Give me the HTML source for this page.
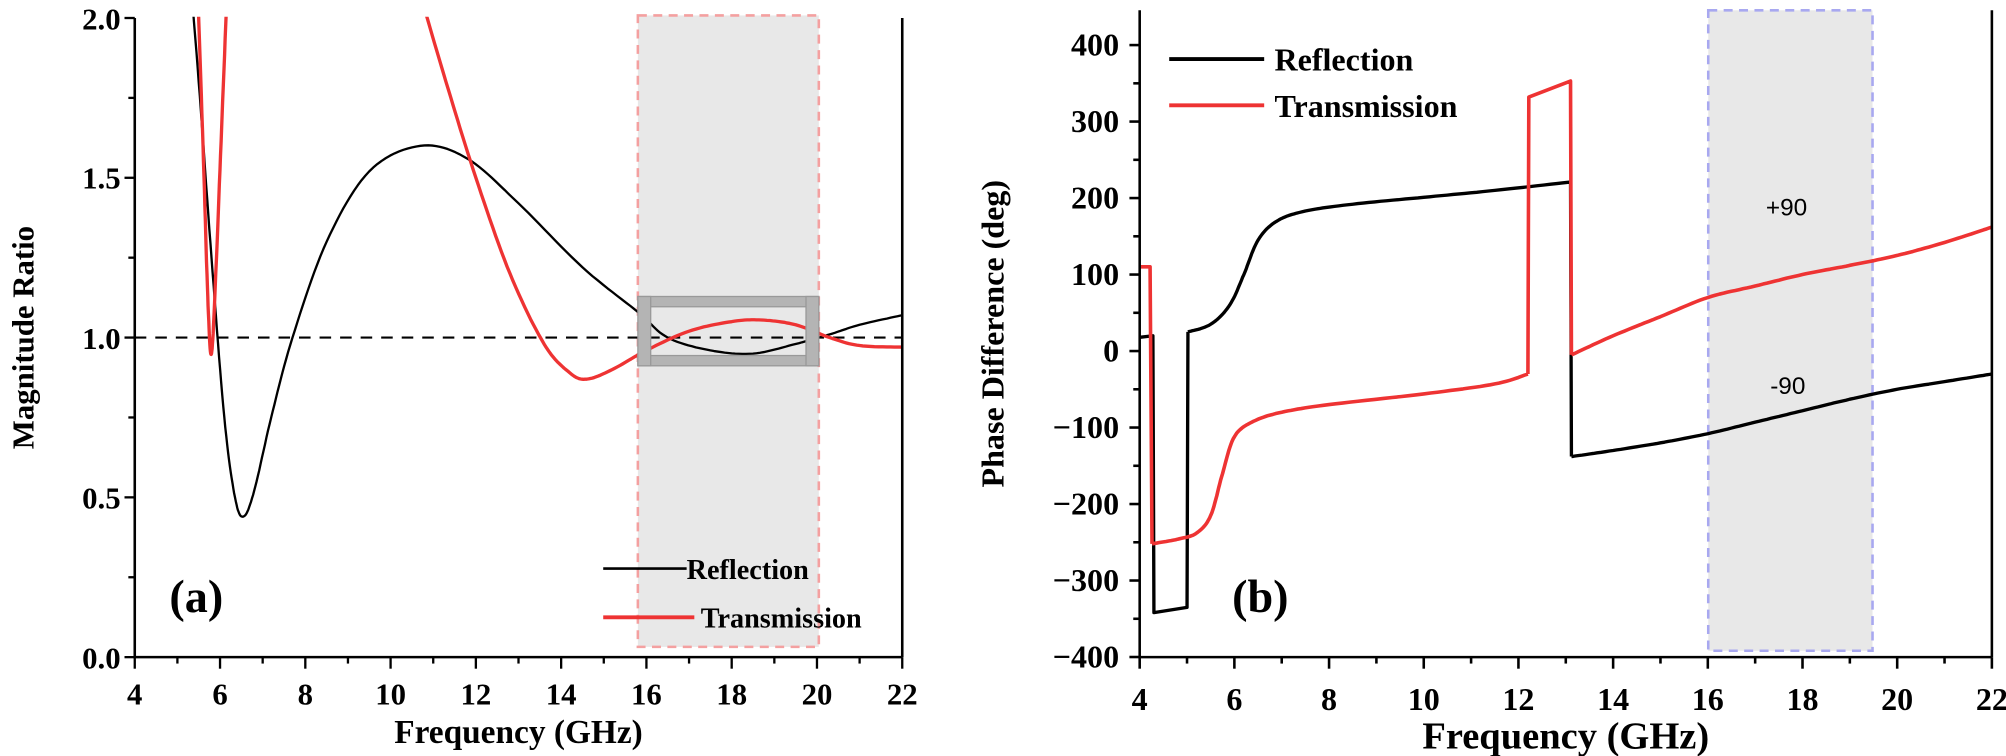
<!DOCTYPE html>
<html><head><meta charset="utf-8"><style>html,body{margin:0;padding:0;background:#fff}svg{display:block}</style></head>
<body>
<svg id="s" width="2006" height="756" viewBox="0 0 1563 589" xmlns="http://www.w3.org/2000/svg" font-family="Liberation Serif, serif">
<!-- Panel a -->
<rect x="497" y="12" width="141" height="492" fill="#e8e8e8" stroke="#f4a0a0" stroke-width="2" stroke-dasharray="7,5"/>
<line x1="105" y1="263" x2="703" y2="263" stroke="#000" stroke-width="1.6" stroke-dasharray="9,7"/>
<g id="ga"></g>
<g fill="#b4b4b4" stroke="#999" stroke-width="1">
<rect x="497" y="231" width="141" height="8"/>
<rect x="497" y="277" width="141" height="8"/>
<rect x="497" y="231" width="10" height="54"/>
<rect x="628" y="231" width="10" height="54"/>
</g>
<g stroke="#000" stroke-width="2" fill="none">
<line x1="105" y1="14" x2="105" y2="512"/><line x1="104" y1="512" x2="703" y2="512"/><line x1="703" y1="14" x2="703" y2="512"/>
</g>
<g id="ta"></g>
<g font-weight="bold" font-size="24" text-anchor="end">
<text x="94" y="521">0.0</text><text x="94" y="396">0.5</text><text x="94" y="272">1.0</text><text x="94" y="147">1.5</text><text x="94" y="23">2.0</text>
</g>
<g id="xa" font-weight="bold" font-size="24" text-anchor="middle"></g>
<text x="404" y="579" font-weight="bold" font-size="26" text-anchor="middle">Frequency (GHz)</text>
<text transform="translate(26,263) rotate(-90)" font-weight="bold" font-size="24" text-anchor="middle">Magnitude Ratio</text>
<text x="132" y="477" font-weight="bold" font-size="36">(a)</text>
<line x1="470" y1="443" x2="535" y2="443" stroke="#000" stroke-width="2"/>
<text x="535" y="451" font-weight="bold" font-size="22">Reflection</text>
<line x1="470" y1="481" x2="541" y2="481" stroke="#ee3333" stroke-width="3"/>
<text x="546" y="489" font-weight="bold" font-size="22">Transmission</text>

<!-- Panel b -->
<rect x="1331" y="8" width="128" height="499" fill="#e8e8e8" stroke="#a8a8f0" stroke-width="2" stroke-dasharray="7,5"/>
<g id="gb"></g>
<g stroke="#000" stroke-width="2" fill="none">
<line x1="888" y1="8" x2="888" y2="512"/><line x1="887" y1="512" x2="1552" y2="512"/><line x1="1552" y1="8" x2="1552" y2="512"/>
</g>
<g id="tb"></g>
<g id="yb" font-weight="bold" font-size="25" text-anchor="end"></g>
<g id="xb" font-weight="bold" font-size="25" text-anchor="middle"></g>
<text x="1220" y="583" font-weight="bold" font-size="30" text-anchor="middle">Frequency (GHz)</text>
<text transform="translate(782,260) rotate(-90)" font-weight="bold" font-size="25" text-anchor="middle">Phase Difference (deg)</text>
<text x="960" y="477" font-weight="bold" font-size="36">(b)</text>
<line x1="911" y1="46" x2="985" y2="46" stroke="#000" stroke-width="3"/>
<text x="993" y="55" font-weight="bold" font-size="25">Reflection</text>
<line x1="911" y1="82" x2="985" y2="82" stroke="#ee3333" stroke-width="3"/>
<text x="993" y="91" font-weight="bold" font-size="25">Transmission</text>
<text x="1392" y="168" font-family="Liberation Sans, sans-serif" font-size="19" text-anchor="middle">+90</text>
<text x="1393" y="307" font-family="Liberation Sans, sans-serif" font-size="19" text-anchor="middle">-90</text>
</svg>
<script>
var NS="http://www.w3.org/2000/svg";
function el(p,t,a){var e=document.createElementNS(NS,t);for(var k in a)e.setAttribute(k,a[k]);p.appendChild(e);return e;}
function spline(pts,n){var out=[];for(var i=0;i<pts.length-1;i++){var p0=pts[Math.max(i-1,0)],p1=pts[i],p2=pts[i+1],p3=pts[Math.min(i+2,pts.length-1)];
for(var j=0;j<n;j++){var t=j/n,t2=t*t,t3=t2*t;var f=function(a,b,c,d){return 0.5*((2*b)+(-a+c)*t+(2*a-5*b+4*c-d)*t2+(-a+3*b-3*c+d)*t3)};out.push([f(p0[0],p1[0],p2[0],p3[0]),f(p0[1],p1[1],p2[1],p3[1])]);}}
out.push(pts[pts.length-1]);return out;}
function path(g,segs,X,Y,col,w,clip){var d="";segs.forEach(function(s){var p=s.smooth===false?s.p:spline(s.p,12);p.forEach(function(q,i){d+=(i?"L":"M")+X(q[0]).toFixed(1)+","+Y(q[1]).toFixed(1);});});
var a={d:d,stroke:col,"stroke-width":w,fill:"none","stroke-linejoin":"round"};if(clip)a["clip-path"]=clip;el(g,"path",a);}
var s=document.getElementById("s");
var defs=el(s,"defs",{});var cp=el(defs,"clipPath",{id:"ca"});el(cp,"rect",{x:105,y:13,width:598,height:499});
var Xa=function(f){return 105+(f-4)*598/18},Ya=function(v){return 512-v*249};
var Xb=function(f){return 888+(f-4)*664/18},Yb=function(v){return 273.5-v*0.596};
var ga=document.getElementById("ga");
path(ga,[{p:[[5.2,2.3],[5.5,1.8],[5.8,1.25],[6.1,0.75],[6.35,0.5],[6.55,0.44],[6.8,0.52],[7.2,0.75],[7.7,1.0],[8.5,1.3],[9.5,1.52],[10.7,1.6],[11.8,1.56],[13,1.42],[14.5,1.22],[15.8,1.08],[16.5,1.0],[17.5,0.96],[18.5,0.95],[19.5,0.98],[20.3,1.01],[21,1.04],[22,1.07]]}],Xa,Ya,"#000",1.8,"url(#ca)");
path(ga,[{p:[[5.45,2.2],[5.6,1.6],[5.72,1.1],[5.8,0.95],[5.9,1.2],[6.05,1.7],[6.2,2.2]]},{p:[[10.75,2.05],[11.3,1.8],[12,1.5],[12.8,1.2],[13.6,0.98],[14.2,0.89],[14.6,0.87],[15.2,0.9],[16,0.96],[17,1.02],[18,1.05],[18.7,1.055],[19.5,1.04],[20.3,1.0],[21,0.975],[22,0.97]]}],Xa,Ya,"#ee3333",2.6,"url(#ca)");
var ta=document.getElementById("ta"),xa=document.getElementById("xa");
for(var f=4;f<=22;f++){var x=Xa(f);el(ta,"line",{x1:x,y1:512,x2:x,y2:f%2?517:521,stroke:"#000","stroke-width":1.8});
if(f%2==0){var t=el(xa,"text",{x:x,y:549});t.textContent=f;}}
for(var v=0;v<=2;v+=0.25){el(ta,"line",{x1:105,y1:Ya(v),x2:(v*4)%2?100:97,y2:Ya(v),stroke:"#000","stroke-width":1.8});}
var gb=document.getElementById("gb");
path(gb,[{smooth:false,p:[[4,18],[4.28,20],[4.3,-342],[5.0,-335],[5.02,25]]},{p:[[5.02,25],[5.5,35],[5.9,60],[6.2,100],[6.5,145],[6.9,170],[7.5,183],[8.5,192],[10,201],[11.5,210],[13.1,221]]},{smooth:false,p:[[13.1,221],[13.12,-138]]},{p:[[13.12,-138],[14,-130],[15,-120],[16,-108],[17,-93],[18,-78],[19,-63],[20,-50],[21,-40],[22,-30]]}],Xb,Yb,"#000",2.6);
path(gb,[{smooth:false,p:[[4,110],[4.22,110],[4.26,-252]]},{p:[[4.26,-252],[4.8,-246],[5.2,-238],[5.5,-215],[5.75,-160],[6.0,-112],[6.4,-92],[7,-80],[8,-70],[10,-56],[11.5,-43],[12.2,-30]]},{smooth:false,p:[[12.2,-30],[12.22,332],[13.1,353],[13.12,-5]]},{p:[[13.12,-5],[14,20],[15,45],[16,70],[17,85],[18,100],[19,112],[20,125],[21,142],[22,162]]}],Xb,Yb,"#ee3333",2.8);
var tb=document.getElementById("tb"),xb=document.getElementById("xb"),yb=document.getElementById("yb");
for(var f=4;f<=22;f++){var x=Xb(f);el(tb,"line",{x1:x,y1:512,x2:x,y2:f%2?517:521,stroke:"#000","stroke-width":2});
if(f%2==0){var t=el(xb,"text",{x:x,y:553});t.textContent=f;}}
for(var v=-400;v<=400;v+=50){var y=Yb(v);el(tb,"line",{x1:888,y1:y,x2:v%100?883:880,y2:y,stroke:"#000","stroke-width":2});
if(v%100==0){var t=el(yb,"text",{x:872,y:y+8});t.textContent=(v<0?"\u2212":"")+Math.abs(v);}}
</script>
</body></html>
